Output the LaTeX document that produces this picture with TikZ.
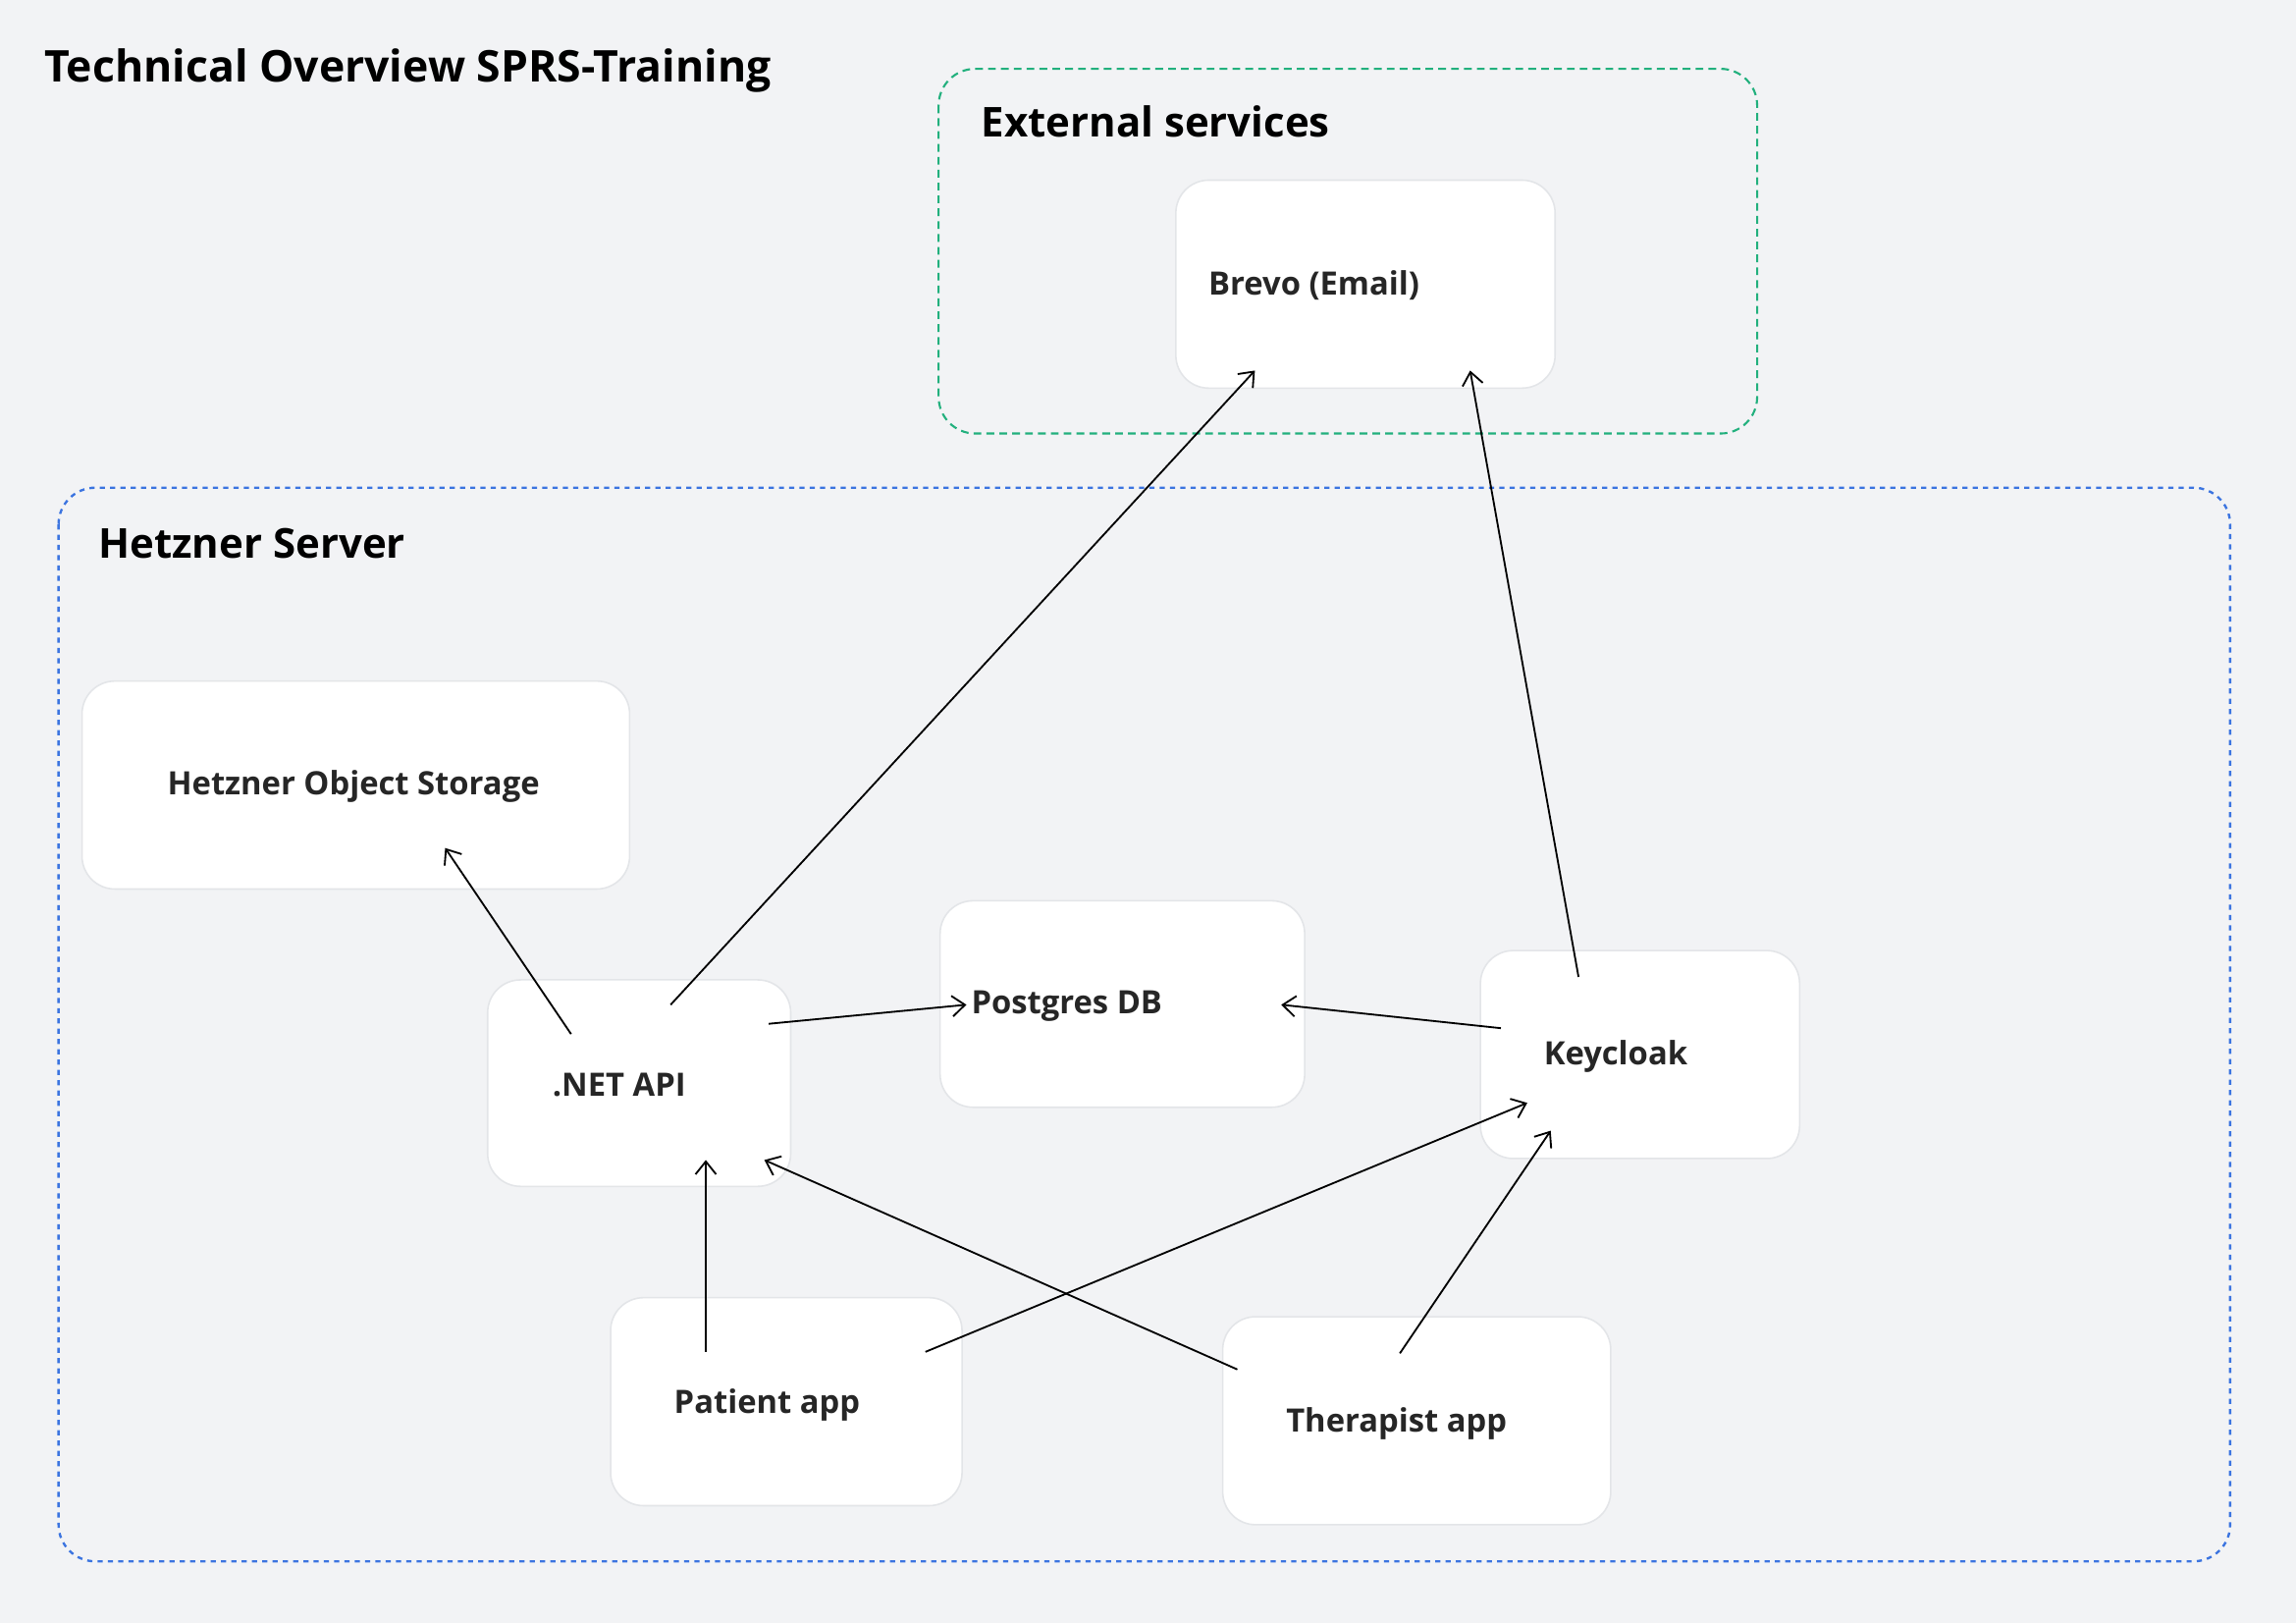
\documentclass[tikz,border=0pt]{standalone}
\usepackage{fontspec}
\setmainfont{Open Sans}
\usetikzlibrary{positioning,arrows.meta}

\definecolor{bgcol}{HTML}{F2F3F5}
\definecolor{cardline}{HTML}{E3E5E8}
\definecolor{extcol}{HTML}{22B07D}
\definecolor{hetzcol}{HTML}{3B74E0}

\tikzset{
  card/.style={draw=cardline, fill=white, rounded corners=0.45cm, line width=0.6pt},
  lbl/.style={font=\fontsize{12.5}{15}\selectfont\bfseries, text=black!85, anchor=west, inner sep=0pt},
  grouplbl/.style={font=\fontsize{16}{19}\selectfont\bfseries, anchor=west, inner sep=0pt},
  arr/.style={-{Straight Barb[length=5pt,width=8pt]}, line width=0.7pt},
}

\begin{document}
\begin{tikzpicture}[x=0.02cm, y=-0.02cm]
  \fill[bgcol] (0,0) rectangle (1568,1108);
  \useasboundingbox (0,0) rectangle (1568,1108);

  % Title
  \node[grouplbl, font=\fontsize{17}{20}\selectfont\bfseries] (title) at (30,48) {Technical Overview SPRS-Training};

  % Groups
  \draw[extcol, dash pattern=on 3pt off 2pt, line width=0.8pt, rounded corners=0.5cm] (641,47) rectangle (1200,296);
  \node[grouplbl] (extlbl) at (670,83) {External services};
  \draw[hetzcol, dash pattern=on 2pt off 2pt, line width=0.9pt, rounded corners=0.5cm] (40,333) rectangle (1523,1066);
  \node[grouplbl] (hetzlbl) at (67,371) {Hetzner Server};

  % Cards
  \draw[card] (803,123) rectangle (1062,265);
  \node[lbl] (brevo) at (825,195) {Brevo (Email)};
  \draw[card] (56,465) rectangle (430,607);
  \node[lbl] (storage) at (114,537) {Hetzner Object Storage};
  \draw[card] (333,669) rectangle (540,810);
  \node[lbl] (api) at (377,741) {.NET API};
  \draw[card] (642,615) rectangle (891,756);
  \node[lbl] (postgres) at (663,687) {Postgres DB};
  \draw[card] (1011,649) rectangle (1229,791);
  \node[lbl] (keycloak) at (1054,721) {Keycloak};
  \draw[card] (417,886) rectangle (657,1028);
  \node[lbl] (patient) at (460,959) {Patient app};
  \draw[card] (835,899) rectangle (1100,1041);
  \node[lbl] (therapist) at (878,972) {Therapist app};

  % Arrow ends
  \coordinate (api-a) at (390,706);   \coordinate (storage-in) at (304,579);
  \coordinate (api-b) at (458,686);   \coordinate (brevo-a) at (857,253);
  \coordinate (kc-a) at (1078,667);   \coordinate (brevo-b) at (1004,253);
  \coordinate (api-c) at (525,699);   \coordinate (pg-a) at (660,686);
  \coordinate (kc-b) at (1025,702);   \coordinate (pg-b) at (875,686);
  \coordinate (pat-a) at (482,923);   \coordinate (api-in1) at (482,792);
  \coordinate (pat-b) at (632,923);   \coordinate (kc-in1) at (1043,753);
  \coordinate (ther-a) at (845,935);  \coordinate (api-in2) at (522,792);
  \coordinate (ther-b) at (956,924);  \coordinate (kc-in2) at (1059,772);

  % Arrows
  \draw[arr] (api-a) -- (storage-in);
  \draw[arr] (api-b) -- (brevo-a);
  \draw[arr] (kc-a) -- (brevo-b);
  \draw[arr] (api-c) -- (pg-a);
  \draw[arr] (kc-b) -- (pg-b);
  \draw[arr] (pat-a) -- (api-in1);
  \draw[arr] (pat-b) -- (kc-in1);
  \draw[arr] (ther-a) -- (api-in2);
  \draw[arr] (ther-b) -- (kc-in2);
\end{tikzpicture}
\end{document}
